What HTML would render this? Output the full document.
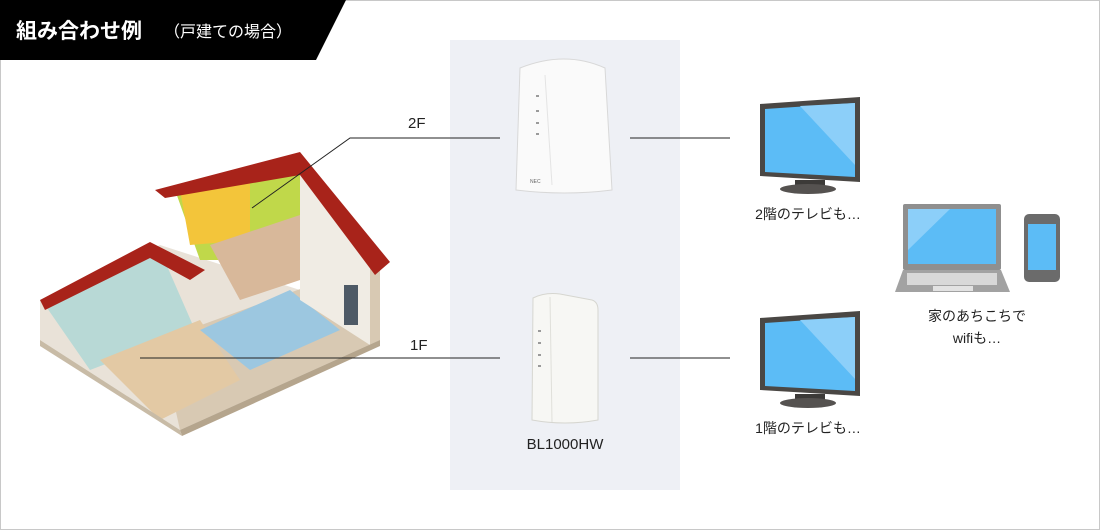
<!DOCTYPE html>
<html><head><meta charset="utf-8"><style>
html,body{margin:0;padding:0;background:#fff}
svg{display:block}
text{font-family:"Liberation Sans","Noto Sans CJK JP",sans-serif}
</style></head><body>
<svg width="1100" height="530" viewBox="0 0 1100 530" xmlns="http://www.w3.org/2000/svg">
<rect x="0.5" y="0.5" width="1099" height="529" fill="#fff" stroke="#c8c8c8"/>
<polygon points="0,0 346,0 316,60 0,60" fill="#000"/>
<text x="16" y="38" font-size="21" font-weight="bold" fill="#fff">組み合わせ例</text>
<text x="164" y="37" font-size="16" fill="#fff">（戸建ての場合）</text>
<rect x="450" y="40" width="230" height="450" fill="#eef0f5"/>
<!-- house -->
<polygon points="40,300 160,245 300,290 380,260 380,340 180,430 40,340" fill="#e9e2d8"/>
<polygon points="160,340 380,260 380,340 180,430" fill="#d8c9b3"/>
<polygon points="45,305 160,250 195,330 90,370" fill="#b8d9d6"/>
<polygon points="100,360 200,320 240,380 160,420" fill="#e3c9a4"/>
<polygon points="200,330 290,290 340,330 250,370" fill="#9cc7e0"/>
<polygon points="175,190 300,160 300,260 200,260" fill="#c0d84a"/>
<polygon points="180,190 250,175 250,240 190,245" fill="#f3c53a"/>
<polygon points="210,245 300,215 330,270 240,300" fill="#d8b89a"/>
<polygon points="300,165 370,255 370,345 300,300" fill="#f0ece4"/>
<polygon points="155,190 300,152 390,262 375,275 300,175 165,198" fill="#a8231a"/>
<polygon points="40,300 150,242 205,270 190,280 150,258 45,310" fill="#a8231a"/>
<rect x="344" y="285" width="14" height="40" fill="#4e5a66"/>
<polygon points="180,430 380,340 380,346 182,436" fill="#b5a58d"/>
<polygon points="40,340 180,430 182,436 40,346" fill="#c8bba6"/>
<!-- lines -->
<g stroke="#222" stroke-width="1" fill="none">
<polyline points="252,208 350,138 500,138"/>
<line x1="140" y1="358" x2="500" y2="358"/>
<line x1="630" y1="138" x2="730" y2="138"/>
<line x1="630" y1="358" x2="730" y2="358"/>
</g>
<text x="408" y="128" font-size="15" fill="#222">2F</text>
<text x="410" y="350" font-size="15" fill="#222">1F</text>
<!-- router 2F -->
<path d="M520,68 Q565,50 605,68 L612,190 Q565,196 516,190 Z" fill="#fafafa" stroke="#d8d8d8"/>
<path d="M545,75 L552,185" stroke="#e4e4e4"/>
<g fill="#9a9a9a"><rect x="536" y="95" width="3" height="2"/><rect x="536" y="110" width="3" height="2"/><rect x="536" y="122" width="3" height="2"/><rect x="536" y="133" width="3" height="2"/></g>
<text x="530" y="183" font-size="5" fill="#666">NEC</text>
<!-- router 1F -->
<path d="M533,298 Q545,292 560,294 L592,300 Q598,302 598,310 L598,420 Q565,426 532,420 Z" fill="#f7f7f4" stroke="#d6d6d0"/>
<line x1="550" y1="297" x2="552" y2="422" stroke="#e0e0da"/>
<g fill="#9a9a9a"><rect x="538" y="330" width="3" height="2"/><rect x="538" y="342" width="3" height="2"/><rect x="538" y="354" width="3" height="2"/><rect x="538" y="365" width="3" height="2"/></g>
<text x="565" y="449" font-size="15" fill="#222" text-anchor="middle">BL1000HW</text>
<!-- TVs -->
<g id="tv">
<polygon points="760,104 860,97 860,182 760,176" fill="#4a4744"/>
<polygon points="765,109 855,103 855,177 765,172" fill="#5cbcf6"/>
<polygon points="800,106 855,103 855,165" fill="#8ccff9"/>
<rect x="795" y="180" width="30" height="8" fill="#3c3a38"/>
<ellipse cx="808" cy="189" rx="28" ry="5" fill="#555250"/>
</g>
<use href="#tv" transform="translate(0,214)"/>
<text x="808" y="219" font-size="14" fill="#222" text-anchor="middle">2階のテレビも…</text>
<text x="808" y="433" font-size="14" fill="#222" text-anchor="middle">1階のテレビも…</text>
<!-- laptop -->
<rect x="903" y="204" width="98" height="66" rx="2" fill="#8f8f8f"/>
<rect x="908" y="209" width="88" height="55" fill="#5cbcf6"/>
<polygon points="908,209 950,209 908,250" fill="#8ccff9"/>
<polygon points="903,270 1001,270 1010,292 895,292" fill="#a2a2a2"/>
<rect x="907" y="273" width="90" height="12" fill="#d8d8d8"/>
<rect x="933" y="286" width="40" height="5" fill="#e2e2e2"/>
<!-- phone -->
<rect x="1024" y="214" width="36" height="68" rx="5" fill="#6b6b6b"/>
<rect x="1028" y="224" width="28" height="46" fill="#5cbcf6"/>
<text x="977" y="321" font-size="14" fill="#222" text-anchor="middle">家のあちこちで</text>
<text x="977" y="343" font-size="14" fill="#222" text-anchor="middle">wifiも…</text>
</svg>
</body></html>
